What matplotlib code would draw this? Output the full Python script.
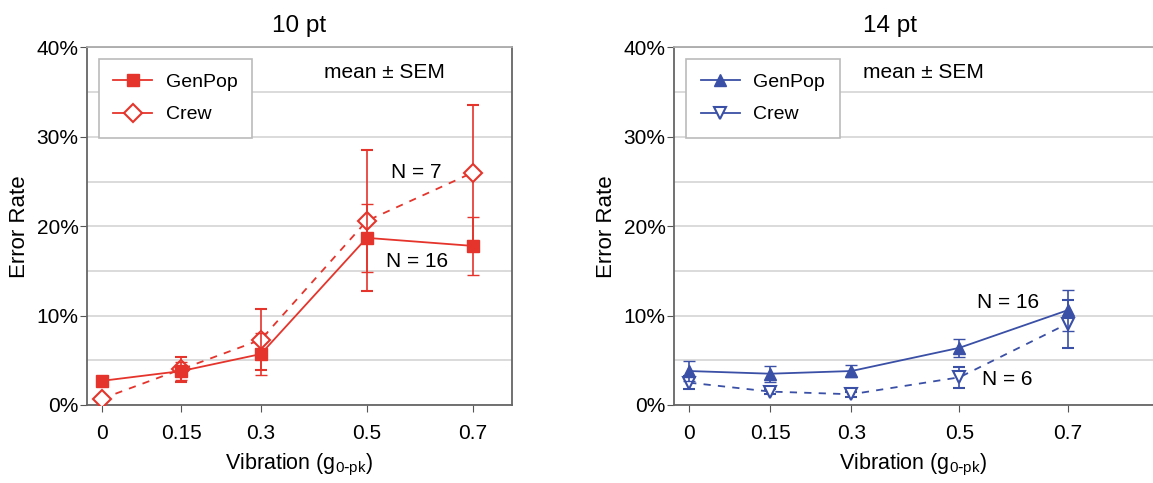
import matplotlib.pyplot as plt
from matplotlib.lines import Line2D
from matplotlib.ticker import PercentFormatter

plt.rcParams['font.family'] = ['Liberation Sans', 'DejaVu Sans']

# vibration levels (g 0-pk)
vib = [0, 0.15, 0.3, 0.5, 0.7]
vib_labels = ["0", "0.15", "0.3", "0.5", "0.7"]

# 10 pt font, error rate in %
gp10 = [2.7, 3.8, 5.7, 18.7, 17.8]
gp10_sem = [0.3, 1.0, 2.3, 3.8, 3.2]
cr10 = [0.7, 4.0, 7.3, 20.6, 26.0]
cr10_sem = [0.3, 1.4, 3.4, 7.9, 7.6]

# 14 pt font
gp14 = [3.8, 3.5, 3.8, 6.4, 10.6]
gp14_sem = [1.1, 0.9, 0.7, 1.0, 2.3]
cr14 = [2.5, 1.5, 1.2, 3.1, 9.1]
cr14_sem = [0.7, 0.3, 0.3, 1.2, 2.7]

red = "#e5342b"
blue = "#3a4fa6"

fig = plt.figure(figsize=(11.53, 4.83), dpi=100)
ax1 = fig.add_axes([0.0755, 0.1615, 0.3685, 0.7402])
ax2 = fig.add_axes([0.5846, 0.1615, 0.4154, 0.7402])


def panel(ax, gp, gp_err, cr, cr_err, col, mk_gp, mk_cr, xmax):
    ax.errorbar(vib, gp, yerr=gp_err, color=col, marker=mk_gp, ms=8.5,
                mfc=col, mec=col, lw=1.3, elinewidth=1.2, capsize=4, zorder=4)
    ax.errorbar(vib, cr, yerr=cr_err, color=col, marker=mk_cr, ms=9,
                mfc="white", mec=col, mew=1.5, lw=1.3, ls=(0, (4, 4)),
                elinewidth=1.2, capsize=4, zorder=3)
    ax.set_xlim(-0.028, xmax)
    ax.set_ylim(0, 40)
    ax.set_xticks(vib)
    ax.set_xticklabels(vib_labels)
    ax.set_yticks([0, 10, 20, 30, 40])
    ax.set_yticks([5, 15, 25, 35], minor=True)
    ax.yaxis.set_major_formatter(PercentFormatter(decimals=0))
    ax.grid(axis="y", which="both", color="#d4d4d4", lw=1.2)
    ax.set_axisbelow(True)
    ax.tick_params(axis="both", which="major", labelsize=15, length=5,
                   color="#555555")
    ax.tick_params(axis="x", which="major", pad=9)
    ax.tick_params(axis="y", which="major", pad=1)
    ax.tick_params(axis="y", which="minor", length=0)
    for s in ax.spines.values():
        s.set_color("#666666")
        s.set_linewidth(1.3)
    ax.spines["top"].set_color("#aaaaaa")
    ax.set_ylabel("Error Rate", fontsize=16, labelpad=5)
    ax.set_xlabel(r"Vibration (g$_{\mathregular{0\text{-}pk}}$)", fontsize=15.5, labelpad=6)
    # legend: plain line + marker, no error bars
    handles = [
        Line2D([], [], color=col, marker=mk_gp, ms=9, mfc=col, mec=col, lw=1.3),
        Line2D([], [], color=col, marker=mk_cr, ms=9, mfc="white", mec=col,
               mew=1.5, lw=1.3),
    ]
    leg = ax.legend(handles, ["GenPop", "Crew"], loc="upper left",
                    bbox_to_anchor=(0.005, 0.995), fontsize=14, fancybox=False,
                    framealpha=1, edgecolor="#bbbbbb", handlelength=2.0,
                    borderpad=0.75, labelspacing=0.75, handletextpad=0.7)
    leg.get_frame().set_linewidth(1.2)


panel(ax1, gp10, gp10_sem, cr10, cr10_sem, red, "s", "D", 0.774)
panel(ax2, gp14, gp14_sem, cr14, cr14_sem, blue, "^", "v", 0.858)

ax1.set_title("10 pt", fontsize=17.5, pad=11)
ax2.set_title("14 pt", fontsize=17.5, pad=11, x=0.45)
ax2.spines["right"].set_visible(False)

ax1.text(0.70, 0.93, "mean ± SEM", transform=ax1.transAxes, fontsize=15,
         ha="center", va="center")
ax2.text(0.52, 0.93, "mean ± SEM", transform=ax2.transAxes, fontsize=15,
         ha="center", va="center")

ax1.text(0.594, 26.0, "N = 7", fontsize=15, ha="center", va="center")
ax1.text(0.594, 16.0, "N = 16", fontsize=15, ha="center", va="center")
ax2.text(0.589, 11.5, "N = 16", fontsize=15, ha="center", va="center")
ax2.text(0.589, 2.9, "N = 6", fontsize=15, ha="center", va="center")

fig.savefig("out.png", dpi=100)
